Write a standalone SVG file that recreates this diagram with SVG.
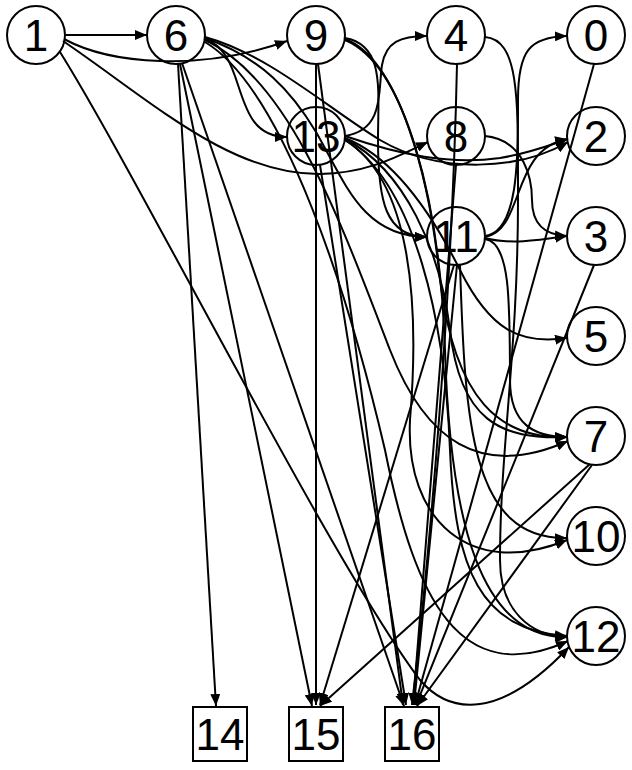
<svg xmlns="http://www.w3.org/2000/svg" width="632" height="770" viewBox="0 0 632 770">
<defs>
<marker id="ah" markerWidth="12" markerHeight="10" refX="12" refY="5" orient="auto" markerUnits="userSpaceOnUse">
<path d="M0,0 L12,5 L0,10 z" fill="#000"/>
</marker>
<style>
.e{fill:none;stroke:#000;stroke-width:2;marker-end:url(#ah)}
.n circle,.n rect{fill:none;stroke:#000;stroke-width:2}
.n text{font-family:"Liberation Sans",Arial,sans-serif;font-size:44px;text-anchor:middle;fill:#000}
</style>
</defs>
<rect width="632" height="770" fill="#fff"/>
<g id="edges">
<path class="e" d="M65,35 L147,35"/>
<path class="e" d="M64,39 C110,64 200,72 287,41"/>
<path class="e" d="M63,41 C150,100 230,175 320,174 C370,173 400,155 428,142"/>
<path class="e" d="M60,52 C140,180 330,560 420,680 C450,715 500,720 569,647"/>
<path class="e" d="M204,39 C250,52 228,137 287,137"/>
<path class="e" d="M205,38 C262,58 292,92 316,132 C345,182 362,237 427,237"/>
<path class="e" d="M205,37 C270,55 330,110 380,140 C440,175 520,170 568,142"/>
<path class="e" d="M178,64 L216,706"/>
<path class="e" d="M180,64 L312,706"/>
<path class="e" d="M182,63 L404,706"/>
<path class="e" d="M205,40 C290,80 340,220 390,350 C425,440 480,480 568,441"/>
<path class="e" d="M205,42 C285,90 350,300 385,450 C415,600 460,690 568,641"/>
<path class="e" d="M316,64 L316,705"/>
<path class="e" d="M318,64 L403,705"/>
<path class="e" d="M345,38 C385,45 378,90 378,140 C378,200 385,237 427,237"/>
<path class="e" d="M345,39 C400,60 430,180 440,280 C455,400 500,440 568,437"/>
<path class="e" d="M345,40 C405,65 440,200 445,350 C450,520 480,640 568,637"/>
<path class="e" d="M345,136 C385,130 378,90 382,65 C386,42 400,36 427,36"/>
<path class="e" d="M345,136 C400,155 450,165 500,158 C530,153 550,145 568,139"/>
<path class="e" d="M320,165 L406,705"/>
<path class="e" d="M345,138 C400,160 440,230 460,270 C490,330 520,345 567,338"/>
<path class="e" d="M345,139 C405,170 440,250 450,330 C460,420 500,440 567,437"/>
<path class="e" d="M345,140 C410,180 420,300 410,420 C405,520 470,580 567,540"/>
<path class="e" d="M345,140 C415,185 445,320 450,450 C455,570 480,630 567,636"/>
<path class="e" d="M457,64 C452,300 430,550 412,705"/>
<path class="e" d="M485,37 C520,40 518,100 518,200 C518,350 500,450 500,560 C500,610 530,636 567,637"/>
<path class="e" d="M485,136 C525,140 532,180 532,200 C532,225 545,235 567,236"/>
<path class="e" d="M456,165 L413,705"/>
<path class="e" d="M485,236 C520,232 518,150 518,100 C518,50 530,37 567,36"/>
<path class="e" d="M485,237 C525,230 510,150 567,139"/>
<path class="e" d="M485,238 C510,245 540,240 567,236"/>
<path class="e" d="M485,239 C510,242 510,300 510,380 C510,425 535,437 567,437"/>
<path class="e" d="M460,265 C465,420 470,540 567,538"/>
<path class="e" d="M454,265 L320,705"/>
<path class="e" d="M457,265 L414,705"/>
<path class="e" d="M594,64 L415,705"/>
<path class="e" d="M594,265 L416,705"/>
<path class="e" d="M590,464 L320,706"/>
<path class="e" d="M592,465 L417,706"/>
</g>
<g id="n1" class="n"><circle cx="36" cy="35" r="29"/><text x="36" y="51">1</text></g>
<g id="n6" class="n"><circle cx="176" cy="35" r="29"/><text x="176" y="51">6</text></g>
<g id="n9" class="n"><circle cx="316" cy="35" r="29"/><text x="316" y="51">9</text></g>
<g id="n4" class="n"><circle cx="456" cy="35" r="29"/><text x="456" y="51">4</text></g>
<g id="n0" class="n"><circle cx="596" cy="35" r="29"/><text x="596" y="51">0</text></g>
<g id="n13" class="n"><circle cx="316" cy="136" r="29"/><text x="316" y="152">13</text></g>
<g id="n8" class="n"><circle cx="456" cy="136" r="29"/><text x="456" y="152">8</text></g>
<g id="n2" class="n"><circle cx="596" cy="136" r="29"/><text x="596" y="152">2</text></g>
<g id="n11" class="n"><circle cx="456" cy="236" r="29"/><text x="456" y="252">11</text></g>
<g id="n3" class="n"><circle cx="596" cy="236" r="29"/><text x="596" y="252">3</text></g>
<g id="n5" class="n"><circle cx="596" cy="336" r="29"/><text x="596" y="352">5</text></g>
<g id="n7" class="n"><circle cx="596" cy="436" r="29"/><text x="596" y="452">7</text></g>
<g id="n10" class="n"><circle cx="596" cy="536" r="29"/><text x="596" y="552">10</text></g>
<g id="n12" class="n"><circle cx="596" cy="636" r="29"/><text x="596" y="652">12</text></g>
<g id="n14" class="n"><rect x="193" y="707" width="54" height="54"/><text x="220" y="750">14</text></g>
<g id="n15" class="n"><rect x="289" y="707" width="54" height="54"/><text x="316" y="750">15</text></g>
<g id="n16" class="n"><rect x="385" y="707" width="54" height="54"/><text x="412" y="750">16</text></g>
</svg>
